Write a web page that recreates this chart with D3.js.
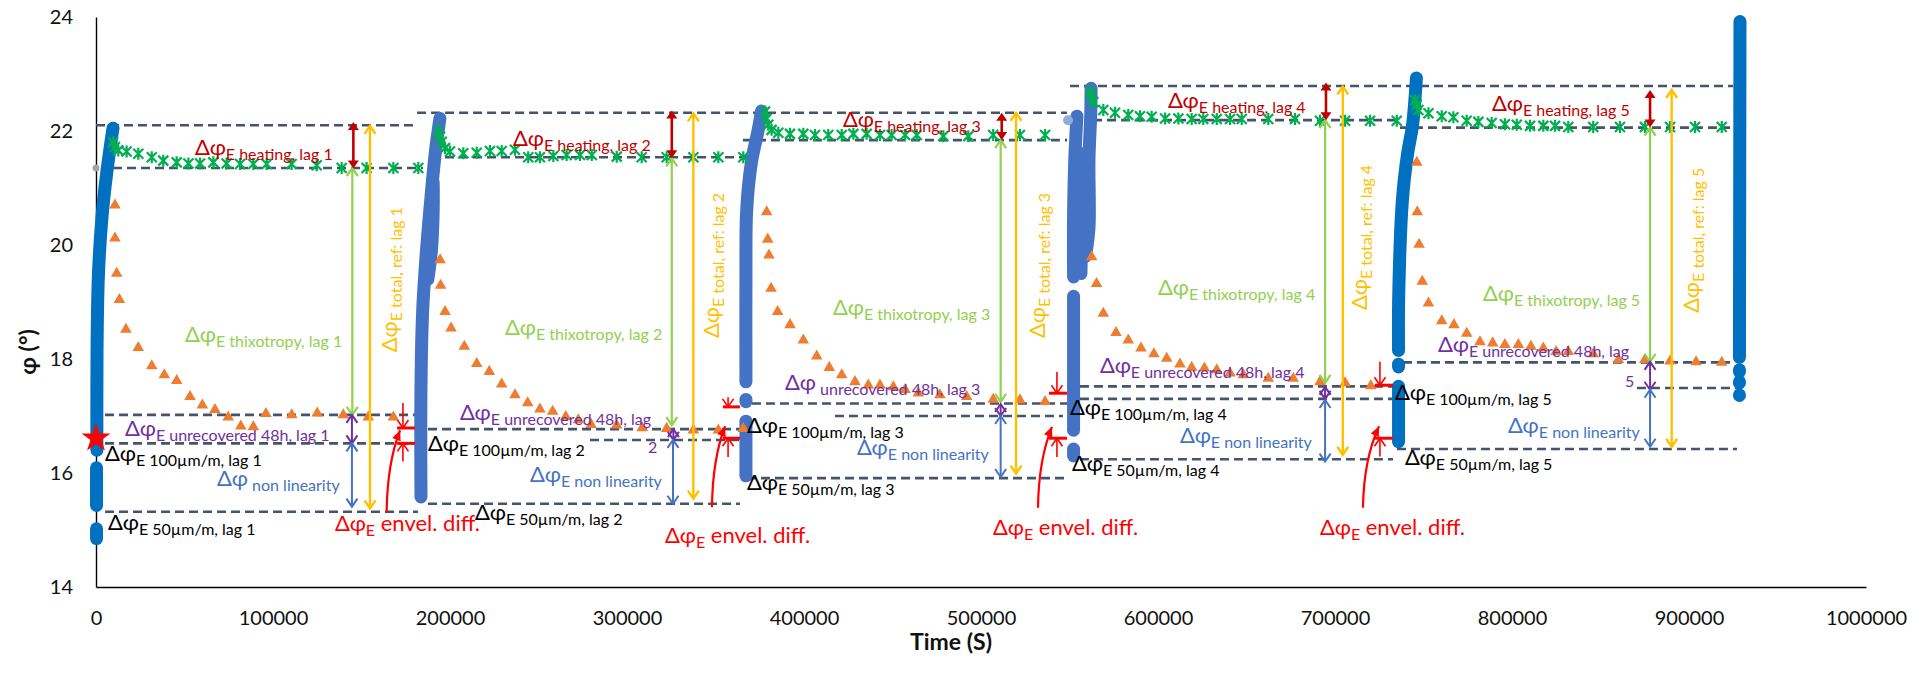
<!DOCTYPE html>
<html><head><meta charset="utf-8">
<script src="https://cdn.jsdelivr.net/npm/d3@7"></script>
<style>
html,body{margin:0;padding:0;background:#fff;}
svg{display:block;font-family:Lato,"Open Sans",sans-serif;}
text{white-space:pre;}
</style></head>
<body><svg id="chart" width="1930" height="697"></svg>
<script>
// ---------------- DATA (time in s, phase angle φ in °) ----------------
const xTicks = [0,100000,200000,300000,400000,500000,600000,700000,800000,900000,1000000];
const yTicks = [14,16,18,20,22,24];

// strain-sweep point clouds (each lag = list of continuous runs of points)
const sweepLag1 = [
  [[500,16.40],[500,17.5],[700,18.5],[1400,19.5],[3400,20.5],[6200,21.3],[9600,22.05]],
  [[300,15.43],[300,16.09]],
  [[300,14.85],[300,15.02]]
];
const sweepLag2 = [
  [[183600,15.58],[183600,17.5],[184500,18.8],[186000,19.6],[188000,20.4],[190000,21.1],[192000,21.7],[194300,22.22]],
  [[187500,19.4],[189500,19.9],[190500,20.6],[190500,21.1]]
];
const sweepLag3 = [
  [[367200,17.6],[367200,19.5],[367600,20.6],[370300,21.45],[374000,22.0],[376000,22.35]],
  [[367200,17.25],[367200,17.29]],
  [[367200,15.95],[367200,16.91]]
];
const sweepLag4 = [
  [[552300,19.44],[552300,20.5],[553000,21.5],[554200,22.26]],
  [[556500,19.5],[556800,20.5],[557000,21.6]],
  [[559000,19.8],[561000,20.3],[561000,21.5],[562000,22.3],[562200,22.75]],
  [[552300,16.75],[552300,19.1]],
  [[552300,16.30],[552300,16.42]]
];
const sweepLag5 = [
  [[735900,18.15],[736000,19.1],[738100,20.8],[741000,21.6],[743800,22.1],[746000,22.93]],
  [[735900,17.86],[735900,17.91]],
  [[735900,16.55],[735900,17.52]]
];
const sweepFinal = [
  [[928500,18.03],[928800,23.92]],
  [[928500,17.78],[928500,17.81]],
  [[928500,17.58],[928500,17.60]],
  [[928500,17.36],[928500,17.37]]
];
const sweepOutlier = [[549200,22.19]];

// recovery (orange triangles)
const recoveryLag1 = [[10700,20.70],[10700,20.12],[11700,19.50],[13200,19.04],[16900,18.52],[23900,18.20],[31500,17.88],[38600,17.72],[45600,17.62],[53100,17.34],[60100,17.19],[67200,17.11],[74700,16.98],[81800,16.82],[88900,16.81],[96000,17.04],[110600,17.02],[125000,17.05],[139700,17.02],[153800,16.98],[168000,16.98]];
const recoveryLag2 = [[194400,19.74],[194700,19.29],[197200,18.83],[200600,18.54],[208100,18.22],[215100,17.92],[222200,17.78],[229200,17.56],[236700,17.37],[243900,17.23],[250800,17.12],[258000,17.08],[265400,16.99],[272500,16.93],[279700,16.85],[294200,16.84],[308600,16.79],[322400,16.78],[337500,16.75],[351600,16.75],[365700,16.78]];
const recoveryLag3 = [[378900,20.58],[379500,20.10],[380200,19.82],[381400,19.24],[385100,18.83],[392100,18.60],[399600,18.33],[407200,18.05],[414300,17.85],[421300,17.72],[428800,17.60],[436300,17.54],[442900,17.54],[450500,17.51],[457100,17.46],[464600,17.40],[476800,17.37],[491900,17.34],[506900,17.29],[522000,17.28],[536200,17.25]];
const recoveryLag4 = [[562500,19.79],[565300,19.32],[569100,18.80],[576300,18.46],[583200,18.33],[590400,18.19],[597700,18.09],[604900,18.01],[612400,17.91],[619000,17.85],[626200,17.84],[633200,17.81],[640700,17.75],[648200,17.72],[662300,17.66],[676400,17.66],[691500,17.60],[705700,17.58],[720200,17.53]];
const recoveryLag5 = [[746200,21.45],[746500,20.58],[747500,20.01],[749300,19.36],[752800,18.98],[760300,18.67],[767200,18.60],[774400,18.45],[781900,18.30],[789100,18.28],[796000,18.25],[803600,18.25],[810700,18.22],[817700,18.19],[824900,18.13],[831800,18.13],[845900,18.09],[860100,17.99],[875100,17.99],[889300,17.96],[904000,17.95],[918500,17.94]];

// heating (green asterisks)
const heatingLag1 = [[9600,21.80],[10700,21.72],[12600,21.66],[17300,21.64],[23900,21.60],[31500,21.54],[38000,21.48],[45600,21.45],[52200,21.43],[58800,21.43],[66300,21.45],[73800,21.43],[81400,21.42],[88900,21.42],[96400,21.42],[110500,21.42],[124700,21.40],[138800,21.35],[152900,21.35],[168000,21.35],[182100,21.35]];
const heatingLag2 = [[193400,21.99],[194400,21.90],[195300,21.81],[197200,21.70],[200000,21.64],[207500,21.61],[215100,21.62],[222600,21.65],[229200,21.65],[236700,21.67],[244200,21.54],[250800,21.54],[258400,21.56],[265900,21.58],[273400,21.58],[280100,21.58],[294200,21.55],[308300,21.54],[322400,21.54],[337500,21.54],[351600,21.54],[365700,21.54]];
const heatingLag3 = [[378000,22.34],[378900,22.22],[379800,22.11],[381700,22.02],[385500,21.97],[392100,21.95],[399600,21.95],[406200,21.93],[413700,21.93],[421300,21.93],[427900,21.95],[435400,21.95],[442900,21.93],[449500,21.93],[457100,21.93],[463700,21.93],[478700,21.91],[492800,21.91],[506900,21.93],[522000,21.93],[536200,21.93]];
const heatingLag4 = [[561600,22.69],[562500,22.60],[563500,22.51],[569100,22.37],[575700,22.32],[583200,22.28],[589800,22.26],[596400,22.25],[604000,22.22],[611500,22.22],[619000,22.21],[625600,22.21],[633200,22.21],[640700,22.21],[647300,22.21],[662300,22.21],[677400,22.21],[691500,22.18],[705700,22.18],[719800,22.18],[734900,22.18]];
const heatingLag5 = [[745200,22.54],[746200,22.46],[747100,22.37],[752800,22.31],[760300,22.26],[766900,22.24],[774400,22.18],[781000,22.16],[788500,22.14],[796000,22.12],[802700,22.11],[810200,22.09],[817700,22.09],[824300,22.09],[831800,22.07],[845900,22.07],[861000,22.07],[875100,22.07],[889300,22.07],[903400,22.07],[918500,22.07]];

const referencePoint = [[0,16.61]];   // red star
const startPoint = [[0,21.35]];       // grey point

// dashed reference levels [t start, t end, φ]
const guideLevels = [
  [0,181900,22.10],[9600,184700,21.35],[5100,180200,17.02],[5100,180200,16.52],[5100,181900,15.32],
  [181400,375100,22.32],[197200,367800,21.54],[187600,363800,16.77],[279100,363800,16.58],[187600,363800,15.46],
  [379100,548600,22.32],[365500,548600,21.84],[370600,548600,17.22],[417500,546300,17.00],[367800,548600,15.91],
  [550300,924900,22.79],[563300,736700,22.19],[555900,732800,17.52],[555900,732800,17.30],[555900,732800,16.24],
  [736700,923200,22.06],[738400,923200,17.94],[870600,927100,17.49],[735000,927100,16.42]
];

// measured differences (vertical arrows) [t, φ top, φ bottom]
const arrowHeating = [[145400,22.16,21.34],[325300,22.36,21.52],[511700,22.32,21.84],[694900,22.85,22.19],[878000,22.72,22.06]];
const arrowTotal   = [[154800,22.09,15.38],[337500,22.31,15.55],[519800,22.32,15.99],[704400,22.78,16.32],[890200,22.72,16.46]];
const arrowThixo   = [[144800,21.35,17.02],[325300,21.52,16.84],[511100,21.84,17.25],[694400,22.19,17.58],[878000,22.06,17.95]];
const arrowUnrec   = [[144600,17.02,16.52],[326200,16.77,16.58],[511100,17.21,17.00],[694400,17.51,17.30],[878000,17.95,17.46]];
const arrowNonLin  = [[144600,16.52,15.41],[326000,16.58,15.46],[511100,17.00,15.93],[694400,17.28,16.20],[878000,17.46,16.46]];

// envelope difference markers [t centre, t bar start, t bar end, φ arrow start, φ bar 1, φ bar 2, φ arrow start]
const envelMarks = [
  [173400,170100,180200,17.23,16.79,16.52,16.20],
  [357100,354200,363800,17.33,17.16,16.61,16.28],
  [542900,538400,548600,17.77,17.40,16.61,16.28],
  [725400,722600,732800,17.95,17.54,16.61,16.29]
];
// curved pointers [t from, φ from, t to, φ to]
const envelPointers = [[164200,15.32,171800,16.75],[348000,15.40,355400,16.82],[532200,15.39,540100,16.81],[715800,15.39,724900,16.82]];

// annotation texts and anchors (data units)
const heatingSub = ["E heating, lag 1","E heating, lag 2","E heating, lag 3","E heating, lag 4","E heating, lag 5"];
const heatingAt  = [[55900,21.58],[235600,21.74],[422000,22.07],[605600,22.40],[788700,22.35]];
const thixoSub = ["E thixotropy, lag 1","E thixotropy, lag 2","E thixotropy, lag 3","E thixotropy, lag 4","E thixotropy, lag 5"];
const thixoAt  = [[50300,18.30],[231100,18.42],[416400,18.77],[600000,19.12],[783600,19.02]];
const totalSub = ["E total, ref: lag 1","E total, ref: lag 2","E total, ref: lag 3","E total, ref: lag 4","E total, ref: lag 5"];
const totalAt  = [[170100,18.12],[352000,18.37],[536200,18.37],[718100,18.86],[905600,18.81]];
const unrecSub = ["E unrecovered 48h, lag 1","E unrecovered 48h, lag"," unrecovered 48h, lag 3","E unrecovered 48h, lag 4","E unrecovered 48h, lag"];
const unrecAt  = [[16400,16.65],[205600,16.93],[389300,17.46],[567200,17.75],[758200,18.12]];
const unrecWrap = [["2",311900,16.35],["5",863800,17.51]];
const s100Sub = ["E 100µm/m, lag 1","E 100µm/m, lag 2","E 100µm/m, lag 3","E 100µm/m, lag 4","E 100µm/m, lag 5"];
const s100At  = [[5100,16.21],[187600,16.39],[367800,16.70],[550300,17.02],[733900,17.28]];
const nonLinSub = [" non linearity","E non linearity","E non linearity","E non linearity","E non linearity"];
const nonLinAt  = [[68400,15.77],[245200,15.84],[429900,16.32],[612400,16.53],[797700,16.70]];
const s50Sub = ["E 50µm/m, lag 1","E 50µm/m, lag 2","E 50µm/m, lag 3","E 50µm/m, lag 4","E 50µm/m, lag 5"];
const s50At  = [[6800,15.00],[214100,15.18],[367800,15.70],[551400,16.04],[739500,16.14]];
const envelAt = [[135000,14.98],[321500,14.77],[506800,14.91],[691500,14.91]];

// ---------------- DRAWING ----------------
const svg = d3.select("#chart");
const x = d3.scaleLinear().domain([0,1000000]).range([96,1866]);
const y = d3.scaleLinear().domain([14,24]).range([587,17]);

// axes
const gx = svg.append("g").attr("transform","translate(0,587)")
  .call(d3.axisBottom(x).tickValues(xTicks).tickFormat(d3.format("d")).tickSize(0).tickSizeOuter(0).tickPadding(24));
const gy = svg.append("g").attr("transform","translate(96,0)")
  .call(d3.axisLeft(y).tickValues(yTicks).tickSize(0).tickSizeOuter(0).tickPadding(23));
[gx,gy].forEach(g=>{
  g.select(".domain").attr("stroke","#000").attr("stroke-width",1.4);
  g.selectAll("text").attr("font-size",20).attr("font-family","Lato").attr("fill","#111");
});
svg.append("text").attr("x",951).attr("y",650).attr("text-anchor","middle")
  .attr("font-size",23).attr("font-weight","bold").attr("fill","#111").text("Time (S)");
svg.append("text").attr("transform","translate(36,352) rotate(-90)").attr("text-anchor","middle")
  .attr("font-size",23).attr("font-weight","bold").attr("fill","#111").text("φ (°)");

// dashed levels
svg.append("g").selectAll("line").data(guideLevels).join("line")
  .attr("x1",d=>x(d[0])).attr("x2",d=>x(d[1])).attr("y1",d=>y(d[2])).attr("y2",d=>y(d[2]))
  .attr("stroke","#44546A").attr("stroke-width",2.6).attr("stroke-dasharray","9,5");

// sweeps
const sweepLine = d3.line().x(d=>x(d[0])).y(d=>y(d[1])).curve(d3.curveCatmullRom.alpha(0.5));
const sweepSets = [sweepLag1,sweepLag2,sweepLag3,sweepLag4,sweepLag5,sweepFinal];
const sweepColors = ["#0070C0","#4472C4","#4472C4","#4472C4","#0070C0","#0070C0"];
sweepSets.forEach((set,i)=>{
  svg.append("g").selectAll("path").data(set).join("path")
    .attr("d",sweepLine).attr("fill","none").attr("stroke",sweepColors[i])
    .attr("stroke-width",13).attr("stroke-linecap","round").attr("stroke-linejoin","round");
});
svg.append("g").selectAll("circle").data(sweepOutlier).join("circle")
  .attr("cx",d=>x(d[0])).attr("cy",d=>y(d[1])).attr("r",5).attr("fill","#8FAADC");

// recovery triangles
const tri = d3.symbol(d3.symbolTriangle,58)();
[recoveryLag1,recoveryLag2,recoveryLag3,recoveryLag4,recoveryLag5].forEach(set=>{
  svg.append("g").selectAll("path").data(set).join("path")
    .attr("d",tri).attr("transform",d=>`translate(${x(d[0])},${y(d[1])})`).attr("fill","#ED7D31");
});
// heating asterisks
const star6 = "M-5,-5L5,5M-5,5L5,-5M0,-6L0,6";
[heatingLag1,heatingLag2,heatingLag3,heatingLag4,heatingLag5].forEach(set=>{
  svg.append("g").selectAll("path").data(set).join("path")
    .attr("d",star6).attr("transform",d=>`translate(${x(d[0])},${y(d[1])})`)
    .attr("fill","none").attr("stroke","#00B050").attr("stroke-width",2.2);
});
svg.append("g").selectAll("circle").data(startPoint).join("circle")
  .attr("cx",d=>x(d[0])).attr("cy",d=>y(d[1])).attr("r",3.5).attr("fill","#A5A5A5");
svg.append("g").selectAll("path").data(referencePoint).join("path")
  .attr("d",d3.symbol(d3.symbolStar,260)()).attr("transform",d=>`translate(${x(d[0])},${y(d[1])})`).attr("fill","#FF0000");

// arrows
function head(g,xp,yp,dir,color,w,filled){ // dir -1: points up, +1: points down
  const L=8, H=5.5;
  if(filled){
    g.append("path").attr("d",`M${xp},${yp}L${xp-H},${yp-dir*L}L${xp+H},${yp-dir*L}Z`).attr("fill",color);
  } else {
    g.append("path").attr("d",`M${xp-H},${yp-dir*L}L${xp},${yp}L${xp+H},${yp-dir*L}`)
      .attr("fill","none").attr("stroke",color).attr("stroke-width",w).attr("stroke-linejoin","miter");
  }
}
function vArrows(data,color,w,filled){
  const g = svg.append("g");
  data.forEach(d=>{
    const xp=x(d[0]), y1=y(d[1]), y2=y(d[2]);
    g.append("line").attr("x1",xp).attr("x2",xp).attr("y1",y1+(filled?4:0)).attr("y2",y2-(filled?4:0))
      .attr("stroke",color).attr("stroke-width",w);
    head(g,xp,y1,-1,color,w,filled);
    head(g,xp,y2,1,color,w,filled);
  });
}
vArrows(arrowThixo,"#92D050",2.2,false);
vArrows(arrowTotal,"#FFC000",2.4,false);
vArrows(arrowHeating,"#C00000",2.6,true);
vArrows(arrowUnrec,"#7030A0",2,false);
vArrows(arrowNonLin,"#4472C4",2,false);

// envelope difference markers
const ge = svg.append("g");
envelMarks.forEach(d=>{
  const xc=x(d[0]), xa=x(d[1]), xb=x(d[2]);
  ge.append("line").attr("x1",xc).attr("x2",xc).attr("y1",y(d[3])).attr("y2",y(d[4])).attr("stroke","#FF0000").attr("stroke-width",1.6);
  head(ge,xc,y(d[4]),1,"#FF0000",1.6,false);
  ge.append("line").attr("x1",xa).attr("x2",xb).attr("y1",y(d[4])).attr("y2",y(d[4])).attr("stroke","#FF0000").attr("stroke-width",3);
  ge.append("line").attr("x1",xa).attr("x2",xb).attr("y1",y(d[5])).attr("y2",y(d[5])).attr("stroke","#FF0000").attr("stroke-width",3);
  ge.append("line").attr("x1",xc).attr("x2",xc).attr("y1",y(d[6])).attr("y2",y(d[5])).attr("stroke","#FF0000").attr("stroke-width",1.6);
  head(ge,xc,y(d[5]),-1,"#FF0000",1.6,false);
});
envelPointers.forEach(d=>{
  const x0=x(d[0]), y0=y(d[1]), x1=x(d[2]), y1=y(d[3]);
  const dx=x1-x0, dy=y0-y1;
  const cx=x0+0.05*dx, cy=y1+0.4*dy;
  ge.append("path").attr("d",`M${x0},${y0}Q${cx},${cy} ${x1},${y1}`).attr("fill","none").attr("stroke","#FF0000").attr("stroke-width",2.2);
  const a=Math.atan2(y1-cy,x1-cx), L=10, H=4.5;
  const bx=x1-L*Math.cos(a), by=y1-L*Math.sin(a);
  ge.append("path").attr("d",`M${x1},${y1}L${bx-H*Math.sin(a)},${by+H*Math.cos(a)}L${bx+H*Math.sin(a)},${by-H*Math.cos(a)}Z`).attr("fill","#FF0000");
});

// labels
const gl = svg.append("g");
function label(t,phi,main,sub,rest,color,rot){
  const xp=x(t), yp=y(phi);
  const txt = gl.append("text").attr("x",xp).attr("y",yp).attr("fill",color).attr("font-size",22);
  if(rot) txt.attr("transform",`rotate(-90,${xp},${yp})`);
  txt.append("tspan").text(main);
  if(sub) txt.append("tspan").attr("font-size",16).attr("dy",5).text(sub);
  if(rest) txt.append("tspan").attr("font-size",22).attr("dy",-5).text(rest);
}
heatingAt.forEach((p,i)=>label(p[0],p[1],"Δφ",heatingSub[i],null,"#C00000"));
thixoAt.forEach((p,i)=>label(p[0],p[1],"Δφ",thixoSub[i],null,"#92D050"));
totalAt.forEach((p,i)=>label(p[0],p[1],"Δφ",totalSub[i],null,"#FFC000",true));
unrecAt.forEach((p,i)=>label(p[0],p[1],"Δφ",unrecSub[i],null,"#7030A0"));
unrecWrap.forEach(d=>gl.append("text").attr("x",x(d[1])).attr("y",y(d[2])).attr("font-size",16).attr("fill","#7030A0").text(d[0]));
s100At.forEach((p,i)=>label(p[0],p[1],"Δφ",s100Sub[i],null,"#000"));
nonLinAt.forEach((p,i)=>label(p[0],p[1],"Δφ",nonLinSub[i],null,"#4472C4"));
s50At.forEach((p,i)=>label(p[0],p[1],"Δφ",s50Sub[i],null,"#000"));
envelAt.forEach(p=>label(p[0],p[1],"Δφ","E"," envel. diff.","#FF0000"));
</script></body></html>
